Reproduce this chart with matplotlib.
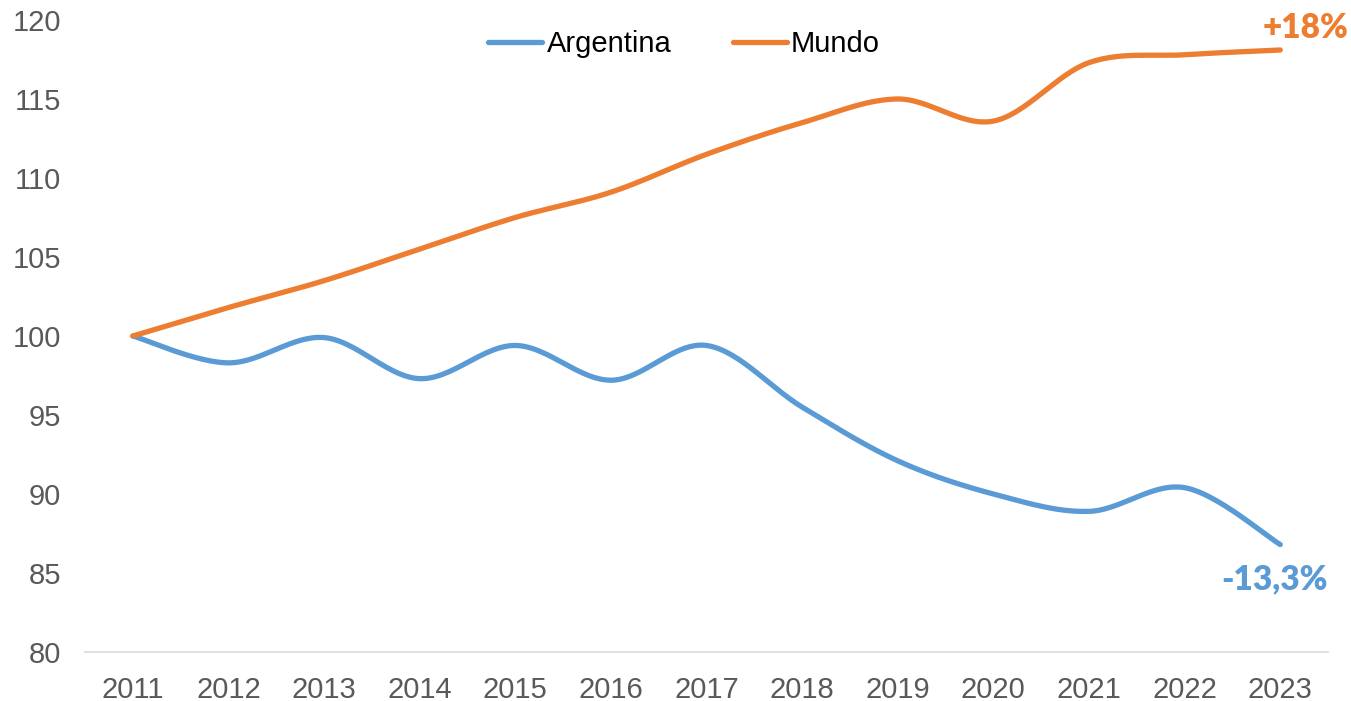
import matplotlib.pyplot as plt
import numpy as np

years = ["2011", "2012", "2013", "2014", "2015", "2016", "2017",
         "2018", "2019", "2020", "2021", "2022", "2023"]
argentina = [100.0, 98.3, 99.9, 97.3, 99.4, 97.2, 99.4,
             95.5, 92.1, 90.0, 88.9, 90.4, 86.8]
mundo = [100.0, 101.8, 103.5, 105.5, 107.5, 109.1, 111.5,
         113.5, 115.0, 113.6, 117.3, 117.8, 118.1]
label_arg = "-13,3%"
label_mun = "+18%"

BLUE = "#5B9BD5"
ORANGE = "#ED7D31"
GRAY = "#595959"


def smooth(y, steps=30):
    # Excel-style smoothed line: cubic Bezier through the points
    x = np.arange(len(y), dtype=float)
    y = np.asarray(y, dtype=float)
    px = np.concatenate([[x[0]], x, [x[-1]]])
    py = np.concatenate([[y[0]], y, [y[-1]]])
    xs, ys = [], []
    t = np.linspace(0, 1, steps)
    for i in range(1, len(px) - 2):
        p0 = np.array([px[i], py[i]])
        p3 = np.array([px[i + 1], py[i + 1]])
        c1 = p0 + (np.array([px[i + 1], py[i + 1]]) - np.array([px[i - 1], py[i - 1]])) / 6
        c2 = p3 - (np.array([px[i + 2], py[i + 2]]) - np.array([px[i], py[i]])) / 6
        b = ((1 - t) ** 3)[:, None] * p0 + (3 * (1 - t) ** 2 * t)[:, None] * c1 \
            + (3 * (1 - t) * t ** 2)[:, None] * c2 + (t ** 3)[:, None] * p3
        xs.extend(b[:, 0])
        ys.extend(b[:, 1])
    return np.array(xs), np.array(ys)


plt.rcParams['font.family'] = ['Liberation Sans', 'DejaVu Sans']

fig = plt.figure(figsize=(13.51, 7.01), dpi=100)
ax = fig.add_axes([0.0629, 0.0699, 0.9201, 0.9016])

sx, sy = smooth(argentina)
ax.plot(sx, sy, color=BLUE, lw=3.8, solid_capstyle='round', label="Argentina")
sx, sy = smooth(mundo)
ax.plot(sx, sy, color=ORANGE, lw=3.8, solid_capstyle='round', label="Mundo")

ax.set_xlim(-0.5, len(years) - 0.5)
ax.set_ylim(80, 120)
ax.set_xticks(range(len(years)))
ax.set_xticklabels(years)
ax.set_yticks(range(80, 121, 5))
ax.tick_params(axis='both', length=0, labelsize=21, colors=GRAY)
ax.tick_params(axis='x', pad=17)
ax.tick_params(axis='y', pad=17)

for s in ['top', 'right', 'left']:
    ax.spines[s].set_visible(False)
ax.spines['bottom'].set_color("#D9D9D9")
ax.spines['bottom'].set_linewidth(1.2)

ax.annotate(label_mun, (len(years) - 1, mundo[-1]), xytext=(18, 16),
            textcoords='offset points', ha='center', va='center',
            fontsize=24, fontweight='heavy', color=ORANGE, family='Lato')
ax.annotate(label_arg, (len(years) - 1, argentina[-1]), xytext=(-4, -25),
            textcoords='offset points', ha='center', va='center',
            fontsize=24, fontweight='heavy', color=BLUE, family='Lato')

ax.legend(loc='upper center', bbox_to_anchor=(0.482, 1.026), ncol=2, frameon=False,
          fontsize=21, handlelength=1.85, handletextpad=0.15, columnspacing=2.1)

fig.savefig("out.png", dpi=100)
